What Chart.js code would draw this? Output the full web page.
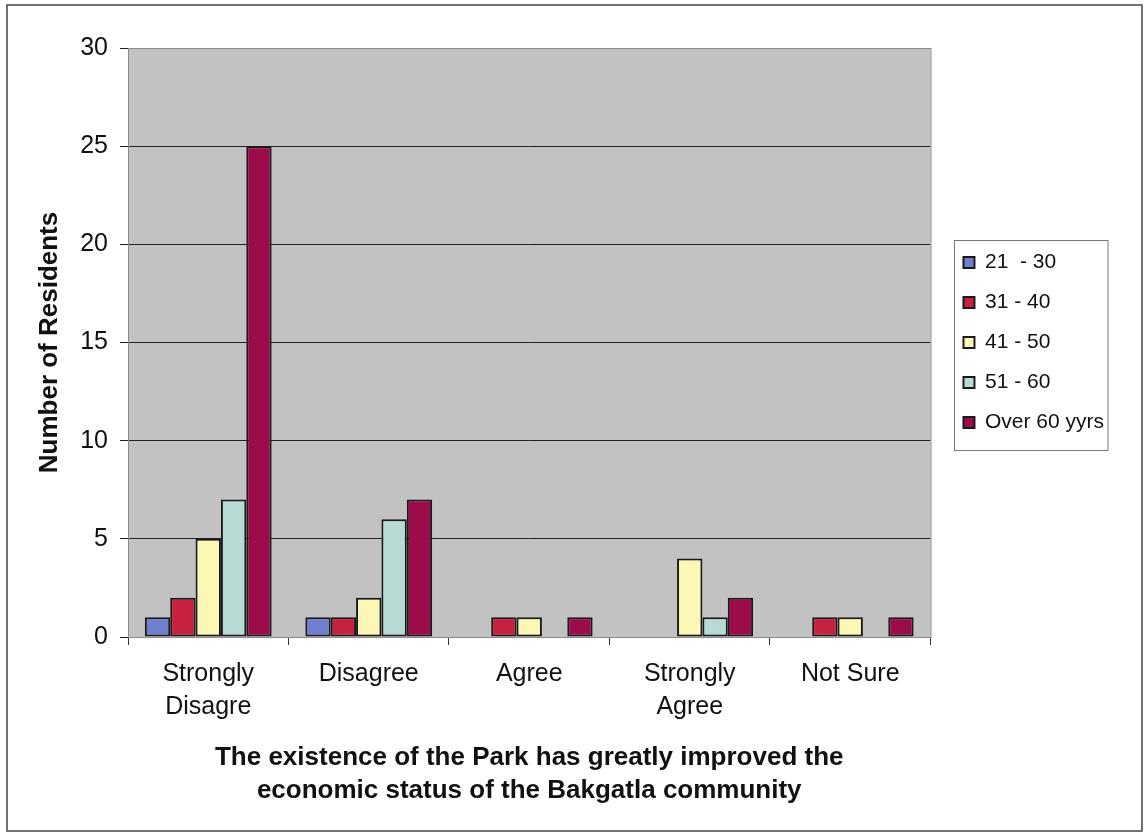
<!DOCTYPE html>
<html>
<head>
<meta charset="utf-8">
<script src="https://cdn.jsdelivr.net/npm/chart.js@4"></script>
<style>
  html, body { margin: 0; padding: 0; background: #fff; }
  #wrap { width: 1147px; height: 834px; }
</style>
</head>
<body>
<div id="wrap"><canvas id="chart" width="1147" height="834"></canvas></div>
<script>
// Residents' answers by age group
const categories = [['Strongly', 'Disagre'], 'Disagree', 'Agree', ['Strongly', 'Agree'], 'Not Sure'];
const ageGroups = ['21  - 30', '31 - 40', '41 - 50', '51 - 60', 'Over 60 yyrs'];
const age21to30 = [1, 1, 0, 0, 0];
const age31to40 = [2, 1, 1, 0, 1];
const age41to50 = [5, 2, 1, 4, 1];
const age51to60 = [7, 6, 0, 1, 0];
const over60 = [25, 7, 1, 2, 1];
const yTicks = [0, 5, 10, 15, 20, 25, 30];
const xTitle = ['The existence of the Park has greatly improved the', 'economic status of the Bakgatla community'];
const yTitle = 'Number of Residents';

const barColors = ['#6f7fce', '#c8203f', '#fbf8b5', '#b8dad5', '#9c0c4a'];
const seriesValues = [age21to30, age31to40, age41to50, age51to60, over60];
const FONT = "'Liberation Sans', Arial, sans-serif";

// grey plot area + frames
const framePlugin = {
    id: 'frames',
    beforeDraw(chart) {
        const { ctx, chartArea: a } = chart;
        ctx.save();
        ctx.fillStyle = '#c2c2c2';
        ctx.fillRect(a.left, a.top, a.right - a.left, a.bottom - a.top);
        ctx.restore();
    },
    afterDraw(chart) {
        const { ctx, chartArea: a, legend } = chart;
        ctx.save();
        ctx.strokeStyle = '#8a8a8a';
        ctx.lineWidth = 1;
        ctx.strokeRect(a.left + 0.5, a.top + 0.5, a.right - a.left, a.bottom - a.top);

        // legend box
        const hb = legend.legendHitBoxes;
        if (hb && hb.length) {
            const first = hb[0], last = hb[hb.length - 1];
            const w = Math.max(...hb.map(h => h.width));
            ctx.strokeStyle = '#777';
            ctx.strokeRect(Math.round(first.left - 9) + 0.5, Math.round(first.top - 12) + 0.5,
                w + 13, last.top + last.height - first.top + 29);
        }

        // outer frame
        ctx.strokeStyle = '#444';
        ctx.lineWidth = 1.5;
        ctx.strokeRect(7, 5, 1135, 826);
        ctx.restore();
    }
};

const chart = new Chart(document.getElementById('chart'), {
    type: 'bar',
    data: {
        labels: categories,
        datasets: ageGroups.map((name, i) => ({
            label: name,
            data: seriesValues[i],
            backgroundColor: barColors[i],
            borderColor: '#1a1a1a',
            borderWidth: 2,
            borderSkipped: false,
            categoryPercentage: 0.79,
            barPercentage: 1.0
        }))
    },
    options: {
        responsive: false,
        devicePixelRatio: 1,
        animation: false,
        layout: { padding: { top: 48, left: 0, right: 33, bottom: 0 } },
        plugins: {
            legend: {
                position: 'right',
                fullSize: false,
                labels: {
                    font: { family: FONT, size: 21 },
                    color: '#111',
                    boxWidth: 11,
                    boxHeight: 11,
                    padding: 19
                }
            },
            tooltip: { enabled: false }
        },
        scales: {
            x: {
                afterFit: s => { s.height = 197; },
                grid: { offset: true, drawOnChartArea: false, drawTicks: true, tickLength: 8, color: '#333' },
                border: { display: true, color: '#222' },
                ticks: {
                    font: { family: FONT, size: 25, lineHeight: 1.32 },
                    color: '#111',
                    padding: 13,
                    maxRotation: 0,
                    autoSkip: false
                },
                title: {
                    display: true,
                    text: xTitle,
                    font: { family: FONT, size: 26, weight: 'bold', lineHeight: 1.27 },
                    color: '#111',
                    padding: { top: 0, bottom: 27 }
                }
            },
            y: {
                min: 0,
                max: 30,
                afterFit: s => { s.width = 128; },
                afterBuildTicks: s => { s.ticks = yTicks.map(v => ({ value: v })); },
                grid: { color: '#222', lineWidth: 1, drawTicks: true, tickLength: 8 },
                border: { display: true, color: '#8a8a8a' },
                ticks: {
                    font: { family: FONT, size: 25 },
                    color: '#111',
                    padding: 12
                },
                title: {
                    display: true,
                    text: yTitle,
                    font: { family: FONT, size: 26, weight: 'bold' },
                    color: '#111',
                    padding: { top: 34, bottom: 0 }
                }
            },
            // spacer between plot and legend
            gap: {
                type: 'linear',
                position: 'right',
                display: true,
                grid: { display: false },
                border: { display: false },
                ticks: { display: false },
                afterFit: s => { s.width = 14; }
            }
        }
    },
    plugins: [framePlugin]
});
</script>
</body>
</html>
